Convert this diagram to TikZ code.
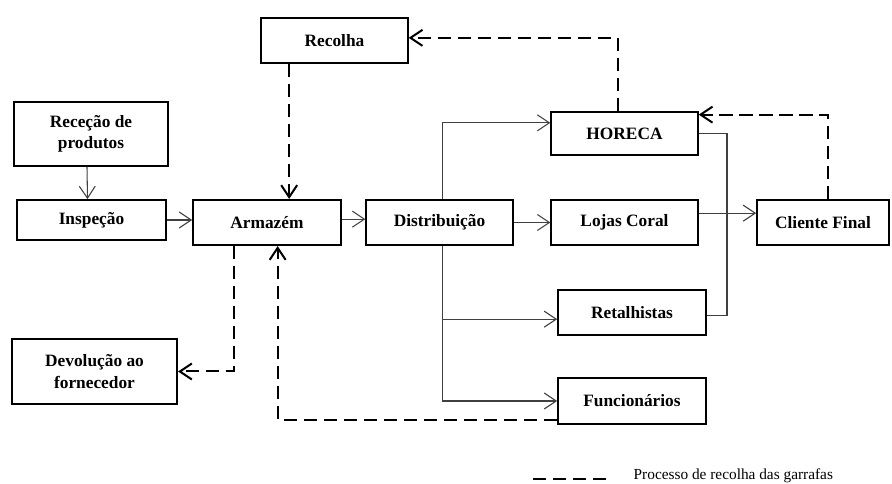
\documentclass[tikz,border=0pt]{standalone}
\usepackage{fontspec}
\setmainfont{Liberation Serif}
\usetikzlibrary{arrows.meta}
\tikzstyle{procbox} = [draw=black, fill=white, line width=1.3pt,
    rectangle, inner sep=0pt, align=center,
    font=\bfseries\fontsize{13}{16}\selectfont]
\tikzstyle{flow} = [draw=black!75, line width=0.8pt,
    -{Straight Barb[length=9pt,width=12pt]}]
\tikzstyle{retorno} = [draw=black, line width=1.5pt, dash pattern=on 10pt off 5pt,
    -{Straight Barb[length=9pt,width=12pt]}]

\begin{document}
\begin{tikzpicture}[x=0.75pt, y=-0.75pt]
    \useasboundingbox (0,0) rectangle (892,484);
    % caixas
    \node [procbox, minimum width=110pt, minimum height=34pt] (recolha) at (334.5,40.5) {Recolha};
    \node [procbox, minimum width=115.5pt, minimum height=48pt] (rececao) at (91,134) {Receção de\\produtos};
    \node [procbox, minimum width=112pt, minimum height=30pt] (inspecao) at (91.5,220) {Inspeção};
    \node [procbox, minimum width=111pt, minimum height=34pt] (armazem) at (267,222.5) {Armazém};
    \node [procbox, minimum width=110pt, minimum height=34pt] (distribuicao) at (439.5,222.5) {Distribuição};
    \node [procbox, minimum width=110pt, minimum height=32pt] (horeca) at (624.5,133.5) {HORECA};
    \node [procbox, minimum width=110pt, minimum height=34pt] (lojas) at (624.5,222.5) {Lojas Coral};
    \node [procbox, minimum width=99pt, minimum height=34pt] (cliente) at (823,222.5) {Cliente Final};
    \node [procbox, minimum width=111pt, minimum height=34pt] (retalhistas) at (632,312.5) {Retalhistas};
    \node [procbox, minimum width=111pt, minimum height=34pt] (funcionarios) at (632,401) {Funcionários};
    \node [procbox, minimum width=124pt, minimum height=49pt] (devolucao) at (94.5,371.5) {Devolução ao\\fornecedor};

    % fluxo de produtos
    \draw [flow] ([xshift=-3pt]rececao.south) -- ([xshift=-3pt]inspecao.north);
    \draw [flow] (inspecao.east) -- (inspecao.east -| armazem.west);
    \draw [flow] ([yshift=2.5pt]armazem.east) -- ([yshift=2.5pt]distribuicao.west);
    \draw [flow] ([xshift=2.5pt]distribuicao.north) |- ([yshift=8pt]horeca.west);
    \draw [flow] (distribuicao.east) -- (lojas.west);
    \draw [flow] ([xshift=2.5pt]distribuicao.south) |- ([yshift=-5pt]retalhistas.west);
    \draw [flow] ([xshift=2.5pt]distribuicao.south) |- (funcionarios.west);
    \coordinate (juncao) at (727,213);
    \draw [flow, -] (horeca.east) -| (juncao);
    \draw [flow, -] ([yshift=-2pt]retalhistas.east) -| (juncao);
    \draw [flow] ([yshift=7pt]lojas.east) -- ([yshift=7pt]cliente.west);

    % recolha das garrafas
    \draw [retorno] ([xshift=4pt]cliente.north) |- ([yshift=-2.5pt]horeca.north east);
    \draw [retorno] ([xshift=-5pt]horeca.north) |- ([yshift=2pt]recolha.east);
    \coordinate (desce) at ([xshift=-34pt]recolha.south);
    \draw [retorno] (desce) -- (desce |- armazem.north);
    \draw [retorno] ([xshift=-25pt]armazem.south) |- (devolucao.east);
    \draw [retorno] ([yshift=-14pt]funcionarios.west) -| ([xshift=8pt]armazem.south);

    % legenda
    \coordinate (leg1) at (533,479);
    \coordinate (leg2) at (607,479);
    \draw [retorno, -] (leg1) -- (leg2);
    \node [anchor=base west, font=\fontsize{11.5}{14}\selectfont] (legenda) at (629,479) {Processo de recolha das garrafas};
\end{tikzpicture}
\end{document}
